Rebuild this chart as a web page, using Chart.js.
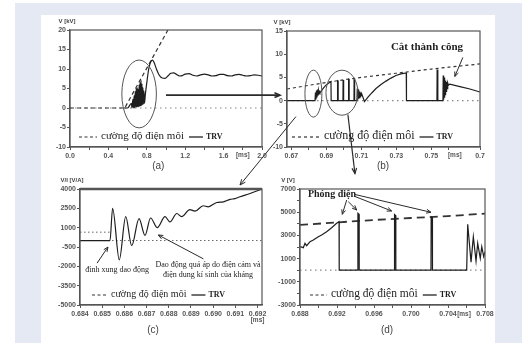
<!DOCTYPE html>
<html><head><meta charset="utf-8">
<script src="https://cdn.jsdelivr.net/npm/chart.js@4/dist/chart.umd.min.js"></script>
<style>
html,body{margin:0;padding:0;background:#fff;width:522px;height:343px;overflow:hidden;position:relative}
#frame{position:absolute;left:15px;top:3px;width:507px;height:340px;background:#e4e9f4}
#panel{position:absolute;left:41px;top:15px;width:454px;height:328px;background:#fff}
canvas{position:absolute;left:0;top:0}
</style></head><body>
<div id="frame"></div><div id="panel"></div>
<canvas id="ca" width="522" height="343"></canvas>
<canvas id="cb" width="522" height="343"></canvas>
<canvas id="cc" width="522" height="343"></canvas>
<canvas id="cd" width="522" height="343"></canvas>
<script>
// ===== Panel (a) =====
const aTrvX = [0.56,0.6,0.64,0.645,0.655,0.66,0.668,0.672,0.68,0.684,0.69,0.694,0.70,0.704,0.71,0.714,0.72,0.724,0.73,0.734,0.74,0.744,0.75,0.754,0.76,0.764,0.77,0.776,0.785,0.80,0.82,0.84,0.86,0.88,0.9,0.93,0.96,0.99,1.02,1.05,1.08,1.11,1.14,1.17,1.2,1.24,1.28,1.32,1.36,1.4,1.44,1.48,1.52,1.56,1.6,1.64,1.68,1.72,1.76,1.8,1.84,1.88,1.92,1.96,2.0];
const aTrvY = [0,0,1.2,0,2.2,0,3.2,0,4.2,0.2,5.0,0.2,5.2,0.3,4.8,0.3,6.0,0.4,6.6,0.5,7.1,0.6,6.2,0.8,5.2,1.0,4.4,1.2,3.5,6.5,10.0,11.8,12.3,11.4,10.0,8.4,7.7,7.6,8.2,8.9,9.0,8.6,8.2,8.3,8.7,8.8,8.4,8.2,8.5,8.7,8.5,8.2,8.3,8.6,8.6,8.3,8.2,8.5,8.6,8.4,8.2,8.3,8.5,8.4,8.2];
const aDielX = [0,0.57,1.02];
const aDielY = [0,0,20];
const aZeroX = [0,2.0];
const aZeroY = [0,0];
const aXTicks = [0,0.2,0.4,0.6,0.8,1.0,1.2,1.4,1.6,1.8,2.0];
const aXLabels = ['0.0','','0.4','','0.8','','1.2','','1.6','','2.0'];
const aYTicks = [-10,-5,0,5,10,15,20];
const aYLabels = ['-10','-5','0','5','10','15','20'];

// ===== Panel (b) =====
const bTrvX = [0.6675,0.6835,0.68377,0.68406,0.68434,0.68463,0.68491,0.6852,0.68549,0.68577,0.68606,0.68634,0.68806,0.68977,0.69263,0.69274,0.69634,0.6964,0.69669,0.69674,0.69949,0.69955,0.69983,0.69989,0.70263,0.70269,0.70298,0.70303,0.70578,0.70584,0.70612,0.70618,0.70749,0.70766,0.70789,0.70812,0.70835,0.70858,0.7088,0.70909,0.70938,0.70966,0.70995,0.71035,0.71178,0.71378,0.71607,0.71835,0.72121,0.72406,0.72692,0.72978,0.73263,0.73566,0.73578,0.75319,0.7533,0.75364,0.75376,0.75661,0.75678,0.75701,0.75724,0.75747,0.75769,0.75792,0.75815,0.75844,0.75872,0.75901,0.75935,0.75975,0.76061,0.76632,0.77203,0.77775];
const bTrvY = [0,0,1.72,0.22,2.16,0.65,2.37,1.08,2.16,1.29,1.94,1.72,2.59,3.34,4.09,0,0,4.3,4.25,0,0,4.45,4.4,0,0,4.6,4.55,0,0,4.7,4.65,0,0,2.6,0.2,2.4,0.4,2.15,0.65,1.95,0.85,1.7,1.1,1.3,-0.2,0.75,1.7,2.6,3.45,4.2,4.85,5.4,5.75,5.95,0,0,6.7,6.65,0,0,5.4,0.2,5.0,0.6,4.7,1.3,4.3,2.0,4.0,2.6,3.8,3.3,3.55,3.0,2.5,1.85];
const bDielX = [0.6675,0.68,0.69,0.70,0.71,0.72,0.73,0.74,0.75,0.76,0.7778];
const bDielY = [2.5,3.3,3.9,4.5,5.0,5.45,5.9,6.35,6.8,7.2,7.9];
const bZeroX = [0.6675,0.7778];
const bZeroY = [0,0];
const bXTicks = [0.67,0.68,0.69,0.70,0.71,0.72,0.73,0.74,0.75,0.76,0.7778];
const bXLabels = ['0.67','','0.69','','0.71','','0.73','','0.75','','0.7'];
const bYTicks = [-10,-5,0,5,10,15];
const bYLabels = ['-10','-5','0','5','10','15'];

// ===== Panel (c) =====
const cTrvX = [0.684,0.68535,0.68547,0.68577,0.68606,0.68633,0.68666,0.68693,0.68718,0.68748,0.68783,0.68805,0.68836,0.68858,0.68895,0.68918,0.68955,0.68978,0.69016,0.69046,0.69076,0.69098,0.69121,0.69166,0.6922];
const cTrvY = [0,0,2500,-1500,1850,-400,1700,400,1750,1000,1850,1450,2100,1850,2400,2280,2700,2620,2950,3000,3200,3250,3400,3650,4000];
const cDielX = [0.684,0.68535];
const cDielY = [650,650];
const cZeroX = [0.684,0.6922];
const cZeroY = [0,0];
const cXTicks = [0.684,0.685,0.686,0.687,0.688,0.689,0.690,0.691,0.692];
const cXLabels = ['0.684','0.685','0.686','0.687','0.688','0.689','0.690','0.691','0.692'];
const cYTicks = [-5000,-3500,-2000,-500,1000,2500,4000];
const cYLabels = ['-5000','-3500','-2000','-500','1000','2500','4000'];

// ===== Panel (d) =====
const dTrvX = [0.688,0.68836,0.68854,0.68872,0.68908,0.68944,0.68998,0.69034,0.69088,0.69142,0.69196,0.69222,0.69224,0.69424,0.69426,0.69438,0.6944,0.6982,0.69822,0.69834,0.69836,0.70216,0.70218,0.7023,0.70232,0.70602,0.70613,0.70649,0.70674,0.70703,0.70721,0.70749,0.70765,0.70786,0.708];
const dTrvY = [2030,1940,2320,2110,2460,2600,2890,3030,3320,3660,4040,4180,0,0,4900,4820,0,0,4800,4720,0,0,4600,4530,0,0,3960,700,2890,790,2320,1030,2030,1170,1600];
const dDielX = [0.688,0.692,0.696,0.700,0.704,0.708];
const dDielY = [3900,4120,4330,4500,4660,4880];
const dZeroX = [0.688,0.708];
const dZeroY = [0,0];
const dXTicks = [0.688,0.690,0.692,0.694,0.696,0.698,0.700,0.702,0.704,0.706,0.708];
const dXLabels = ['0.688','','0.692','','0.696','','0.700','','0.704','','0.708'];
const dYTicks = [-3000,-2000,-1000,0,1000,2000,3000,4000,5000,6000,7000];
const dYLabels = ['-3000','','-1000','','1000','','3000','','5000','','7000'];

const legendLabels = ['cường độ điện môi','TRV'];

// ===== helpers =====
const CW = 522, CH = 343, YW = 30, XH = 16;
const TF = {family:'Liberation Sans', size:7, weight:'bold'};
const INK = '#555';
function pts(xs, ys){ return xs.map((x,i)=>({x:x, y:ys[i]})); }
function ds(xs, ys, st){ return Object.assign({data:pts(xs,ys), showLine:true, pointRadius:0, fill:false, tension:0, borderColor:'#1e1e1e', borderWidth:1.2}, st); }
function P(c, x, y){ return [c.scales.x.getPixelForValue(x), c.scales.y.getPixelForValue(y)]; }
function arrowPx(ctx, x1, y1, x2, y2, w, head, filled){
  ctx.save(); ctx.strokeStyle='#2a2a2a'; ctx.fillStyle='#2a2a2a'; ctx.lineWidth=w; ctx.setLineDash([]);
  ctx.beginPath(); ctx.moveTo(x1,y1); ctx.lineTo(x2,y2); ctx.stroke();
  const a = Math.atan2(y2-y1, x2-x1);
  const hx1 = x2 - head*Math.cos(a-0.4), hy1 = y2 - head*Math.sin(a-0.4);
  const hx2 = x2 - head*Math.cos(a+0.4), hy2 = y2 - head*Math.sin(a+0.4);
  ctx.beginPath(); ctx.moveTo(hx1,hy1); ctx.lineTo(x2,y2); ctx.lineTo(hx2,hy2);
  if (filled){ ctx.closePath(); ctx.fill(); } else ctx.stroke();
  ctx.restore();
}
function ellipseD(c, cx, cy, rx, ry){
  const ctx = c.ctx; const p = P(c, cx, cy);
  const prx = Math.abs(c.scales.x.getPixelForValue(cx+rx)-p[0]);
  const pry = Math.abs(c.scales.y.getPixelForValue(cy+ry)-p[1]);
  ctx.save(); ctx.strokeStyle='#555'; ctx.lineWidth=1; ctx.setLineDash([]);
  ctx.beginPath(); ctx.ellipse(p[0],p[1],prx,pry,0,0,Math.PI*2); ctx.stroke(); ctx.restore();
}
function textD(c, s, x, y, font, align){
  const ctx=c.ctx; const p=P(c,x,y);
  ctx.save(); ctx.font=font; ctx.fillStyle='#1e1e1e'; ctx.textAlign=align||'center'; ctx.textBaseline='middle';
  ctx.fillText(s,p[0],p[1]); ctx.restore();
}
function common(c, o){
  const ctx=c.ctx, A=c.chartArea;
  ctx.save();
  ctx.strokeStyle=INK; ctx.lineWidth=1.2; ctx.setLineDash([]);
  ctx.strokeRect(A.left, A.top, A.right-A.left, A.bottom-A.top);
  if (o.thickTop){ ctx.lineWidth=2.6; ctx.beginPath(); ctx.moveTo(A.left,A.top); ctx.lineTo(A.right,A.top); ctx.stroke(); }
  ctx.font='bold 6px "Liberation Sans"'; ctx.fillStyle='#444'; ctx.textAlign='center'; ctx.textBaseline='middle';
  ctx.fillText(o.yTitle, A.left+o.yTitleDx, A.top-9);
  ctx.font='bold 6.5px "Liberation Sans"'; ctx.fillStyle='#555';
  ctx.fillText('[ms]', c.scales.x.getPixelForValue(o.msX), A.bottom+o.msDy);
  ctx.font='10px "Liberation Sans"'; ctx.fillStyle='#444';
  ctx.fillText(o.caption, c.scales.x.getPixelForValue(o.capX), A.bottom+o.capDy);
  const L=o.leg, y=A.bottom-L.dy; let x=A.left+L.dx;
  ctx.strokeStyle='#333'; ctx.lineWidth=1.2; ctx.setLineDash(L.dash);
  ctx.beginPath(); ctx.moveTo(x,y); ctx.lineTo(x+L.dl,y); ctx.stroke(); ctx.setLineDash([]);
  x += L.dl+4;
  ctx.font=L.fs+'px "Liberation Serif"'; ctx.fillStyle='#1e1e1e'; ctx.textAlign='left';
  ctx.fillText(legendLabels[0], x, y-1);
  x += ctx.measureText(legendLabels[0]).width + 5;
  ctx.lineWidth=1.4; ctx.beginPath(); ctx.moveTo(x,y); ctx.lineTo(x+L.sl,y); ctx.stroke();
  x += L.sl+3;
  ctx.font='bold '+L.ts+'px "Liberation Serif"';
  ctx.fillText(legendLabels[1], x, y);
  ctx.restore();
}
function makeChart(id, o){
  return new Chart(document.getElementById(id), {
    type:'scatter',
    data:{datasets:o.datasets},
    options:{
      responsive:false, animation:false, devicePixelRatio:1, events:[],
      layout:{padding:{left:o.area.l-YW, right:CW-o.area.r, top:o.area.t, bottom:CH-o.area.b-XH}},
      plugins:{legend:{display:false}, tooltip:{enabled:false}},
      scales:{
        x:{type:'linear', min:o.xmin, max:o.xmax,
          afterBuildTicks:s=>{ s.ticks=o.xTicks.map(v=>({value:v})); },
          afterFit:s=>{ s.height=XH; },
          ticks:{autoSkip:false, maxRotation:0, minRotation:0, padding:2, color:INK, font:TF, callback:(v,i)=>o.xLabels[i]},
          grid:{drawOnChartArea:false, drawTicks:true, tickLength:3, color:INK},
          border:{display:true, color:INK, width:1.2}},
        y:{type:'linear', min:o.ymin, max:o.ymax,
          afterBuildTicks:s=>{ s.ticks=o.yTicks.map(v=>({value:v})); },
          afterFit:s=>{ s.width=YW; },
          ticks:{autoSkip:false, padding:1, color:INK, font:TF, callback:(v,i)=>o.yLabels[i]},
          grid:{drawOnChartArea:false, drawTicks:true, tickLength:3, color:INK},
          border:{display:true, color:INK, width:1.2}}
      }
    },
    plugins:[{id:'deco_'+id, afterDraw:c=>{ common(c,o); if(o.deco) o.deco(c,c.ctx); }}]
  });
}

// ===== charts =====
const chA = makeChart('ca', {
  area:{l:70,r:262,t:30,b:147}, xmin:0, xmax:2.0, ymin:-10, ymax:20,
  xTicks:aXTicks, xLabels:aXLabels, yTicks:aYTicks, yLabels:aYLabels,
  yTitle:'V [kV]', yTitleDx:-3, msX:1.8, msDy:8, caption:'(a)', capX:0.92, capDy:19,
  leg:{dx:9, dy:10, dl:18, dash:[3,2.5], fs:11, sl:14, ts:8},
  datasets:[
    ds(aTrvX, aTrvY, {cubicInterpolationMode:'monotone'}),
    ds(aDielX, aDielY, {borderDash:[4,3], borderColor:'#333'}),
    ds(aZeroX, aZeroY, {borderDash:[1.5,3.5], borderColor:'#888', borderWidth:1.2})
  ],
  deco:(c,ctx)=>{ ellipseD(c, 0.72, 3.6, 0.18, 8.7); }
});

const chB = makeChart('cb', {
  area:{l:287,r:480,t:31,b:147}, xmin:0.6675, xmax:0.7778, ymin:-10, ymax:15,
  xTicks:bXTicks, xLabels:bXLabels, yTicks:bYTicks, yLabels:bYLabels,
  yTitle:'V [kV]', yTitleDx:-5, msX:0.7634, msDy:8, caption:'(b)', capX:0.7224, capDy:19,
  leg:{dx:5, dy:10, dl:28, dash:[3,3], fs:12, sl:14, ts:8},
  datasets:[
    ds(bTrvX, bTrvY, {}),
    ds(bDielX, bDielY, {borderDash:[3,3], borderColor:'#333'}),
    ds(bZeroX, bZeroY, {borderDash:[1.5,3.5], borderColor:'#888', borderWidth:1.2})
  ],
  deco:(c,ctx)=>{
    ellipseD(c, 0.6826, 1.5, 0.00485, 5.06);
    ellipseD(c, 0.6989, 1.7, 0.00914, 4.85);
    textD(c, 'Cắt thành công', 0.7475, 11.6, 'bold 11px "Liberation Serif"');
    let p1=P(c,0.768,9.3), p2=P(c,0.7634,5.2);
    arrowPx(ctx,p1[0],p1[1],p2[0],p2[1],1,5,false);
    p1=P(c,0.7023,-3.0); p2=P(c,0.70633,-15.73);
    arrowPx(ctx,p1[0],p1[1],p2[0],p2[1],1.2,6,false);
  }
});

const chC = makeChart('cc', {
  area:{l:80,r:262,t:189,b:305}, xmin:0.684, xmax:0.6922, ymin:-5000, ymax:4000,
  xTicks:cXTicks, xLabels:cXLabels, yTicks:cYTicks, yLabels:cYLabels,
  yTitle:'V/I [V/A]', yTitleDx:-8, msX:0.692, msDy:15, caption:'(c)', capX:0.68729, capDy:25, thickTop:true,
  leg:{dx:12, dy:10, dl:15, dash:[3,2.5], fs:10, sl:14, ts:8},
  datasets:[
    ds(cTrvX, cTrvY, {cubicInterpolationMode:'monotone'}),
    ds(cDielX, cDielY, {borderDash:[1.5,2.5], borderColor:'#666', borderWidth:1}),
    ds(cZeroX, cZeroY, {borderDash:[1.5,2.5], borderColor:'#666', borderWidth:1})
  ],
  deco:(c,ctx)=>{
    textD(c, 'đỉnh xung dao động', 0.68567, -2300, '8px "Liberation Serif"');
    textD(c, 'Dao động quá áp do điện cảm và', 0.68977, -1900, '8px "Liberation Serif"');
    textD(c, 'điện dung kí sinh của kháng', 0.68977, -2650, '8px "Liberation Serif"');
    let p1=P(c,0.68477,-1750), p2=P(c,0.68526,-500);
    arrowPx(ctx,p1[0],p1[1],p2[0],p2[1],1,5,false);
    p1=P(c,0.68956,-1420); p2=P(c,0.68753,430);
    arrowPx(ctx,p1[0],p1[1],p2[0],p2[1],1,5,false);
  }
});

const chD = makeChart('cd', {
  area:{l:300,r:485,t:189,b:305}, xmin:0.688, xmax:0.708, ymin:-3000, ymax:7000,
  xTicks:dXTicks, xLabels:dXLabels, yTicks:dYTicks, yLabels:dYLabels,
  yTitle:'V [V]', yTitleDx:-12, msX:0.70573, msDy:9, caption:'(d)', capX:0.69741, capDy:25,
  leg:{dx:10, dy:10, dl:17, dash:[3,2.5], fs:11.5, sl:14, ts:8},
  datasets:[
    ds(dTrvX, dTrvY, {}),
    ds(dDielX, dDielY, {borderDash:[8,5], borderColor:'#333', borderWidth:1.8}),
    ds(dZeroX, dZeroY, {borderDash:[1.5,3.5], borderColor:'#888', borderWidth:1.2})
  ],
  deco:(c,ctx)=>{
    textD(c, 'Phóng điện', 0.68886, 6543, 'bold 10px "Liberation Serif"', 'left');
    const arr = [[0.69305,6052,0.69257,4819],[0.69322,5905,0.69413,5190],[0.69395,6353,0.69791,5104],[0.69395,6526,0.70216,4992]];
    arr.forEach(a=>{ const p1=P(c,a[0],a[1]), p2=P(c,a[2],a[3]); arrowPx(ctx,p1[0],p1[1],p2[0],p2[1],1,5,false); });
    let s=P(chA,1.0,3.3); let e=[chB.scales.x.getPixelForValue(0.6635), s[1]];
    arrowPx(ctx,s[0],s[1],e[0],e[1],1.6,6,false);
    s=P(chB,0.6726,-3.45); e=P(chC,0.69121,4310);
    arrowPx(ctx,s[0],s[1],e[0],e[1],1,6,false);
  }
});
</script>
</body></html>
